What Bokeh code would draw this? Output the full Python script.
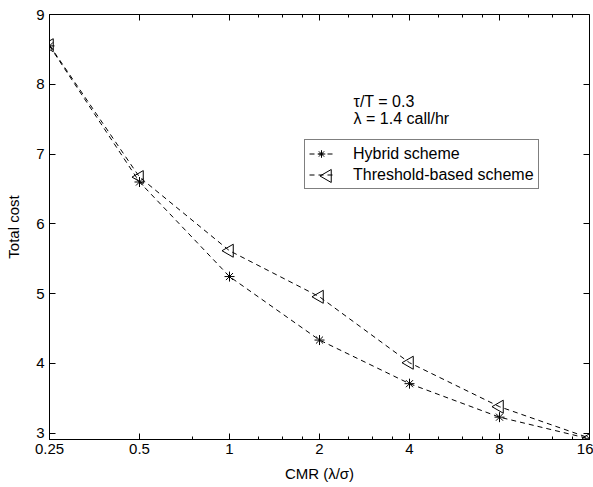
import math
from bokeh.plotting import figure
from bokeh.models import (LogAxis, LinearAxis, FixedTicker, Legend, LegendItem,
                          Label, Range1d, CustomLabelingPolicy)
from bokeh.embed import file_html
from bokeh.resources import INLINE

# ---- data ----
cmr = [0.25, 0.5, 1, 2, 4, 8, 16]
hybrid = [8.55, 6.60, 5.245, 4.335, 3.71, 3.23, 2.92]
threshold = [8.56, 6.67, 5.615, 4.955, 4.01, 3.38, 2.93]
x_ticks = [0.25, 0.5, 1, 2, 4, 8, 16]
x_tick_labels = ["0.25", "0.5", "1", "2", "4", "8", "16"]
x_minor_ticks = [0.75, 1.25, 1.5, 1.75, 2.5, 3, 3.5, 5, 6, 7, 10, 12, 14]
y_ticks = [3, 4, 5, 6, 7, 8, 9]
series_names = ["Hybrid scheme", "Threshold-based scheme"]
note_lines = ["\u03c4/T = 0.3", "\u03bb = 1.4 call/hr"]

FONT = "Liberation Sans"
FS = "15px"
FS2 = "16px"
X_MIN, X_MAX, Y_MIN, Y_MAX = 0.25, 16, 2.91, 9

p = figure(width=593, height=487, x_axis_type="log",
           x_range=Range1d(X_MIN, X_MAX), y_range=Range1d(Y_MIN, Y_MAX),
           output_backend="svg", toolbar_location=None,
           min_border_left=49, min_border_right=4,
           min_border_top=14, min_border_bottom=48)
p.background_fill_color = "white"
p.border_fill_color = "white"
p.outline_line_color = "black"
p.outline_line_width = 1
p.xgrid.visible = False
p.ygrid.visible = False

xt = FixedTicker(ticks=x_ticks, minor_ticks=x_minor_ticks)
yt = FixedTicker(ticks=y_ticks, minor_ticks=[])
overrides = {t: l for t, l in zip(x_ticks, x_tick_labels)}

def style_axis(ax, labels=True):
    ax.axis_line_color = "black"
    ax.major_tick_line_color = "black"
    ax.minor_tick_line_color = "black"
    ax.major_tick_in = 6
    ax.major_tick_out = 0
    ax.minor_tick_in = 3
    ax.minor_tick_out = 0
    ax.major_label_text_font = FONT
    ax.major_label_text_font_size = FS
    ax.major_label_text_color = "black"
    ax.axis_label_text_font = FONT
    ax.axis_label_text_font_size = FS
    ax.axis_label_text_font_style = "normal"
    ax.axis_label_text_color = "black"
    if not labels:
        ax.major_label_policy = CustomLabelingPolicy(code="return []")

xa = p.xaxis[0]
xa.ticker = xt
xa.major_label_overrides = overrides
xa.axis_label = "CMR (\u03bb/\u03c3)"
style_axis(xa)
xa.major_label_standoff = 4
xa.axis_label_standoff = 8

ya = p.yaxis[0]
ya.ticker = yt
ya.axis_label = "Total cost"
style_axis(ya)
ya.major_label_standoff = 5
ya.axis_label_standoff = 11

# mirrored tick marks on the top and right edges of the box
top = LogAxis(ticker=xt, fixed_location=Y_MAX)
style_axis(top, labels=False)
p.add_layout(top, "above")

right = LinearAxis(ticker=yt, fixed_location=X_MAX)
style_axis(right, labels=False)
p.add_layout(right, "right")

dash = "5 4"
l1 = p.line(cmr, hybrid, line_color="black", line_dash=dash, line_width=1)
m1 = p.scatter(cmr, hybrid, marker="asterisk", size=10, line_color="black",
               line_width=1)
l2 = p.line(cmr, threshold, line_color="black", line_dash=dash, line_width=1)
m2 = p.scatter(cmr, threshold, marker="triangle", size=13, angle=math.pi / 2,
               line_color="black", fill_color=None, line_width=1)

# left-pointing triangle for the legend key (legend keys ignore marker angle)
key = p.scatter([2.127], [6.686], marker="triangle", size=13,
                angle=math.pi / 2, line_color="black", fill_color=None,
                line_width=1)

legend = Legend(items=[LegendItem(label=series_names[0], renderers=[l1, m1]),
                       LegendItem(label=series_names[1], renderers=[l2])],
                location=(255, 250), orientation="vertical")
legend.border_line_color = "black"
legend.border_line_width = 1
legend.background_fill_alpha = 0
legend.padding = 4
legend.margin = 0
legend.spacing = 2
legend.label_height = 19
legend.glyph_height = 19
legend.glyph_width = 24
legend.label_standoff = 20
legend.label_text_font = FONT
legend.label_text_font_size = FS2
legend.label_text_color = "black"
p.add_layout(legend, "center")

for txt, yy in zip(note_lines, [7.75, 7.51]):
    p.add_layout(Label(x=2.6, y=yy, text=txt, text_font=FONT,
                       text_font_size=FS2, text_color="black",
                       text_baseline="middle", text_align="left"))

open("out.html", "w").write(file_html(p, INLINE))
